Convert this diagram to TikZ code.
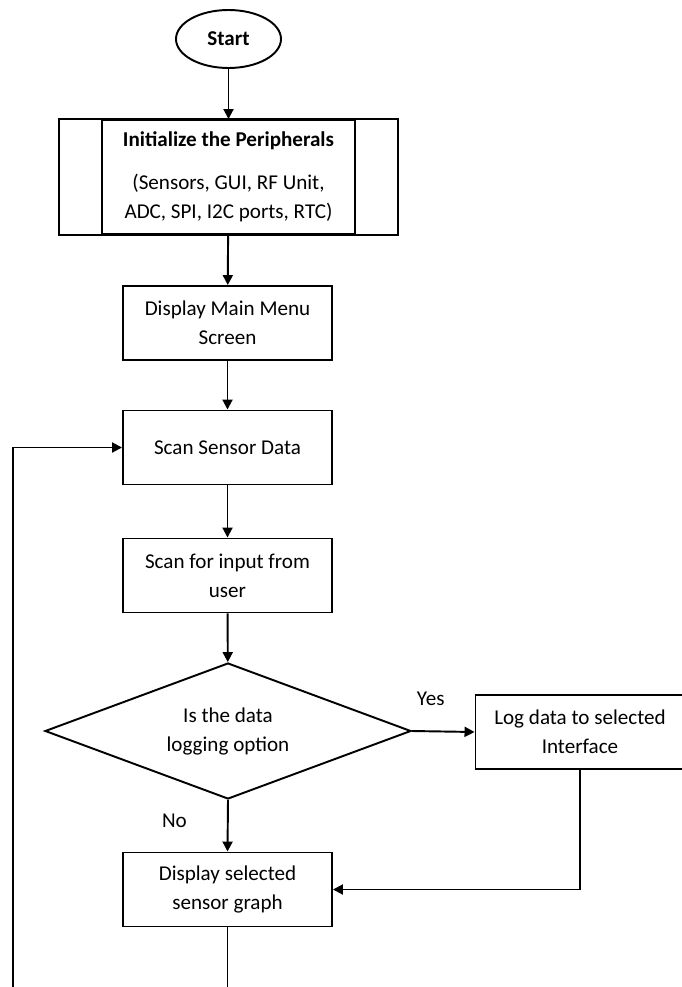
\documentclass[tikz,border=0pt]{standalone}
\usepackage{fontspec}
\setmainfont{Carlito}
\usetikzlibrary{shapes.geometric,arrows.meta,positioning}
\begin{document}
\begin{tikzpicture}[
    terminal/.style={ellipse, draw, line width=1.1pt, minimum width=2.1cm, minimum height=1.16cm, inner sep=0pt, font=\fontsize{12}{16.5}\selectfont\bfseries},
    box/.style={rectangle, draw, line width=1.1pt, minimum width=4.18cm, minimum height=1.48cm, align=center, inner sep=0pt},
    predef/.style={rectangle, draw, line width=1.1pt, minimum width=5.06cm, minimum height=2.28cm, align=center, inner sep=0pt},
    choice/.style={diamond, draw, line width=1.1pt, minimum width=7.32cm, minimum height=2.72cm, aspect=2.7, align=center, inner sep=0pt},
    arrow/.style={-{Triangle[length=2mm,width=2mm]}, line width=1.1pt},
    lbl/.style={inner sep=0pt},
    every node/.style={font=\fontsize{12}{16.5}\selectfont}
]
\useasboundingbox (0,0) rectangle (13.62,-19.74);
% Start
\node[terminal] (start) at (4.57,-0.78) {Start};
% Initialisation
\node[predef] (init) at (4.57,-3.54) {\textbf{Initialize the Peripherals}\\[0.28cm](Sensors, GUI, RF Unit,\\ADC, SPI, I2C ports, RTC)};
\draw[line width=1.1pt] ([xshift=-0.84cm]init.north west) rectangle ([xshift=0.84cm]init.south east);
% Main column
\node[box] (menu) at (4.55,-6.46) {Display Main Menu\\Screen};
\node[box] (scan) at (4.55,-8.95) {Scan Sensor Data};
\node[box] (input) at (4.55,-11.51) {Scan for input from\\user};
\node[choice] (decision) at (4.56,-14.62) {Is the data\\logging option};
\node[box] (log) at (11.6,-14.64) {Log data to selected\\Interface};
\node[box] (graph) at (4.55,-17.79) {Display selected\\sensor graph};
% Loose ends at the bottom
\coordinate (loopbot) at (0.26,-19.74);
\coordinate (graphbot) at (4.55,-19.74);
% Arrows
\draw[arrow] (start) -- (init);
\draw[arrow] (init) -- (menu);
\draw[arrow] (menu) -- (scan);
\draw[arrow] (scan) -- (input);
\draw[arrow] (input) -- (decision);
\draw[arrow] (decision.east) -- node[lbl, pos=0.3, above=0.5cm] {Yes} (log.west);
\draw[arrow] (decision.south) -- node[lbl, pos=0.4, left=0.8cm] {No} (graph.north);
\draw[arrow] (log.south) |- (graph.east);
\draw[arrow] (loopbot) |- (scan.west);
\draw[line width=0.5pt] (graph.south) -- (graphbot);
\end{tikzpicture}
\end{document}
